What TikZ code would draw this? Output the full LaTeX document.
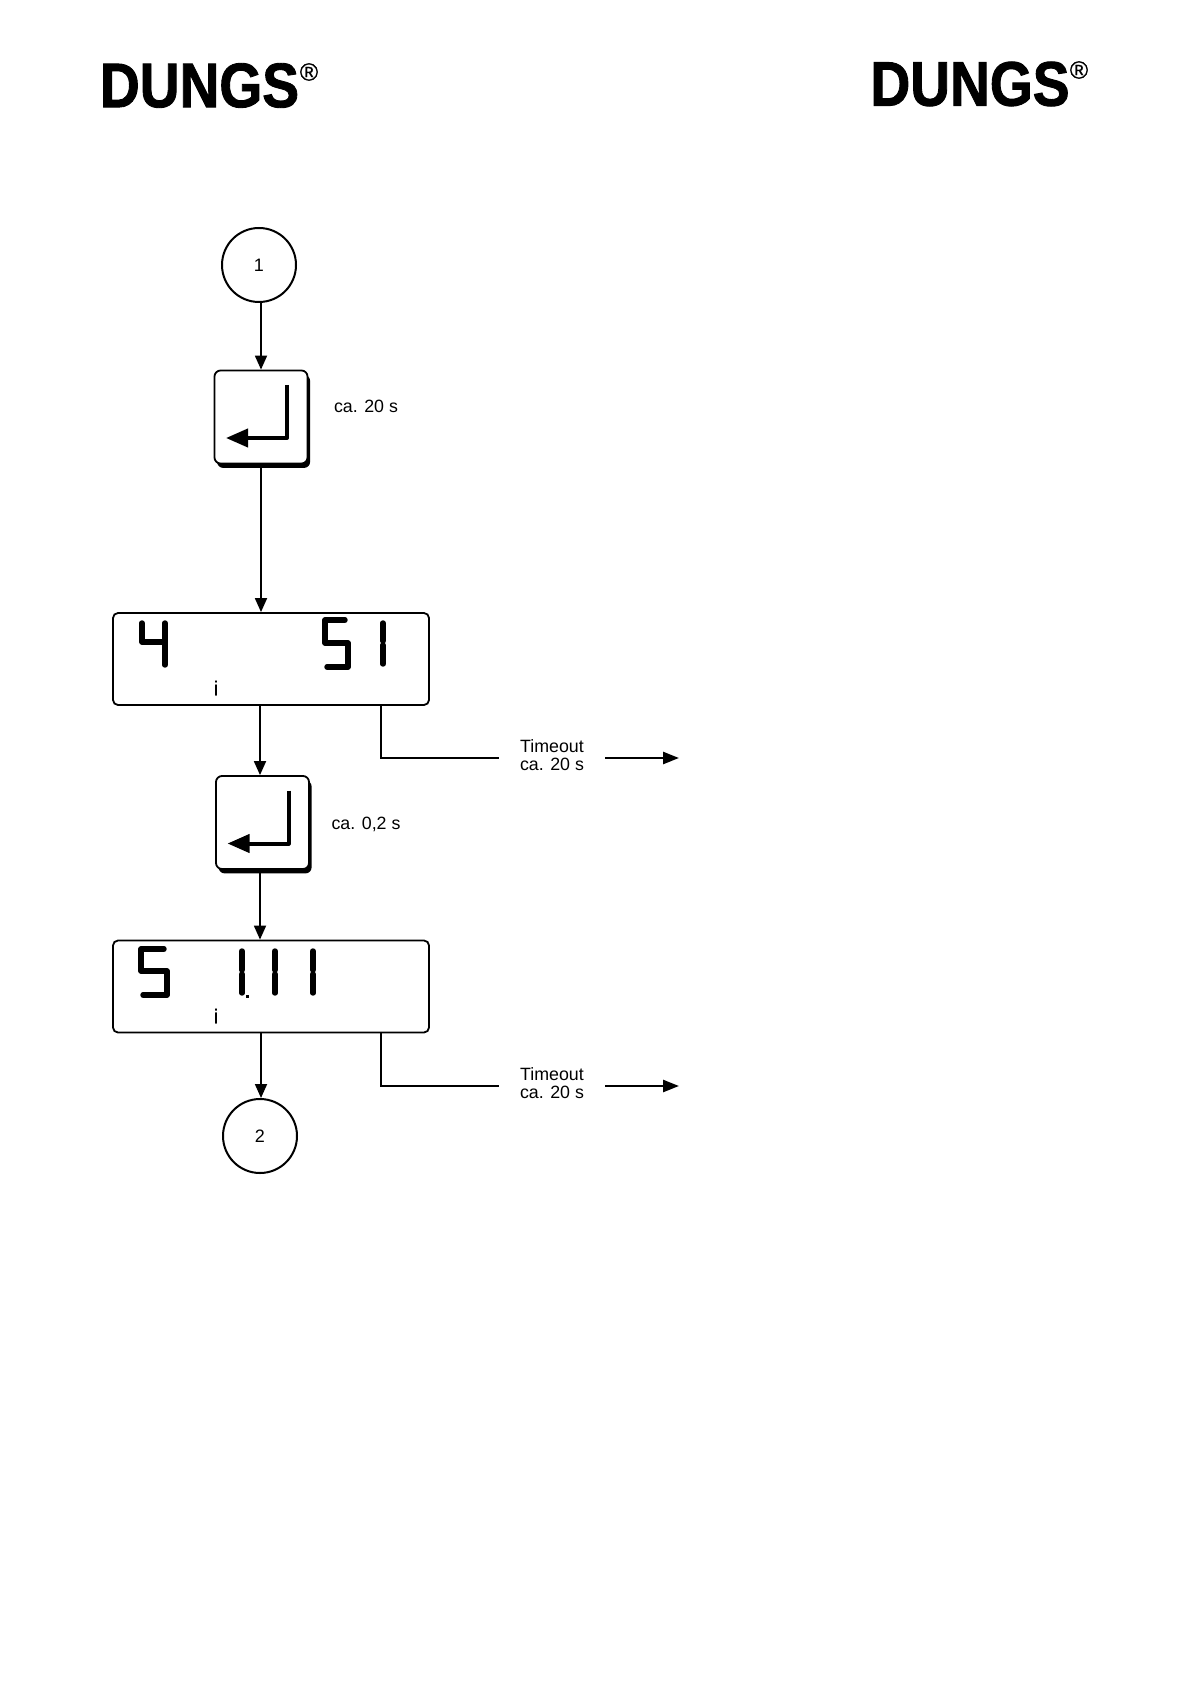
\documentclass[tikz,border=0pt]{standalone}
\usepackage{fontspec}
\setmainfont{Liberation Sans}
\newfontfamily\logofont[FakeStretch=0.875,FakeBold=1.4]{Liberation Sans Bold}
\newfontfamily\regfont[FakeBold=0.6]{Liberation Sans}
\usetikzlibrary{arrows.meta,shadows}

% return arrow on a key, relative to the key centre
\newcommand{\keyarrow}[1]{%
  \draw[retline] ([shift={(26,-32)}]#1.center) -- ([shift={(26,21)}]#1.center)
  -- ([shift={(-35,21)}]#1.center);
}

\tikzset{
  flow/.style={line width=0.9pt,-{Triangle[length=7pt,width=6pt]}},
  timeline/.style={line width=1.25pt},
  timearrow/.style={line width=1.25pt,-{Triangle[length=8pt,width=6pt]}},
  retline/.style={line width=2pt,-{Triangle[length=11pt,width=9pt]},line join=round},
  conn/.style={circle,draw,line width=1pt,minimum size=37pt,inner sep=0pt,font=\fontsize{9}{9}\selectfont},
  keybox/.style={draw,fill=white,line width=0.9pt,rounded corners=3pt,minimum size=46.5pt,inner sep=0pt,
    drop shadow={shadow xshift=1.3pt,shadow yshift=-2.2pt,fill=black,opacity=1}},
  lcdbox/.style={draw,line width=0.9pt,rounded corners=2.5pt,minimum width=158pt,minimum height=46pt,inner sep=0pt},
  lcdseg/.style={line width=2.7pt,line cap=round,line join=round},
  txt/.style={inner sep=0pt,font=\fontsize{8.9}{9}\selectfont},
  ilabel/.style={inner sep=0pt,font=\regfont\fontsize{10}{10}\selectfont},
  timeout/.style={inner sep=0pt,minimum width=53pt,align=center,font=\fontsize{8.9}{9}\selectfont},
  logo/.style={inner sep=0pt,font=\logofont\fontsize{31.5}{32}\selectfont},
  regmark/.style={inner sep=0pt,font=\regfont\fontsize{12.5}{13}\selectfont},
}

\begin{document}
\begin{tikzpicture}[x=0.5pt,y=-0.5pt]
  \useasboundingbox (0,0) rectangle (1191,1684);

  % logos
  \node[logo] (logol) at (199.5,85.5) {DUNGS};
  \node[regmark] (regl) at (309,72) {®};
  \node[logo] (logor) at (970,84) {DUNGS};
  \node[regmark] (regr) at (1079,70) {®};

  % flow
  \node[conn] (ca) at (259,265) {1};
  \node[keybox] (keya) at (261,417) {};
  \node[txt] (ta) at (366,406) {ca. 20 s};
  \node[lcdbox] (lcda) at (271,659) {};
  \node[ilabel] (ia) at (216,688) {i};
  \node[timeout] (toa) at (552,755.5) {Timeout\\ca. 20 s};
  \coordinate (exa) at (679,758);
  \node[keybox] (keyb) at (262.5,822.5) {};
  \node[txt] (tb) at (366,824) {ca. 0,2 s};
  \node[lcdbox] (lcdb) at (271,986.5) {};
  \node[ilabel] (ib) at (216,1016) {i};
  \node[timeout] (tob) at (552,1083.5) {Timeout\\ca. 20 s};
  \coordinate (exb) at (679,1086);
  \node[conn] (cb) at (260,1136) {2};

  \keyarrow{keya}
  \keyarrow{keyb}

  \draw[flow] (261,303) -- (keya.north -| 261,0);
  \draw[flow] (keya.south -| 261,0) -- (lcda.north -| 261,0);
  \draw[flow] (lcda.south -| 260,0) -- (keyb.north -| 260,0);
  \draw[flow] (keyb.south -| 260,0) -- (lcdb.north -| 260,0);
  \draw[flow] (lcdb.south -| 261,0) -- (cb.north -| 261,0);

  \draw[timeline] (lcda.south -| 381,0) |- (exa -| toa.west);
  \draw[timearrow] (exa -| toa.east) -- (exa);
  \draw[timeline] (lcdb.south -| 381,0) |- (exb -| tob.west);
  \draw[timearrow] (exb -| tob.east) -- (exb);

  % display 1
  \draw[lcdseg] (142,623) -- (142,642) -- (165,642);
  \draw[lcdseg] (165,623) -- (165,665);
  \draw[lcdseg] (345,620) -- (325,620) -- (325,643) -- (348,643) -- (348,667) -- (327,667);
  \draw[lcdseg] (383,623) -- (383,641) (383,645) -- (383,664);

  % display 2
  \draw[lcdseg] (164,949) -- (141,949) -- (141,971) -- (167,971) -- (167,995) -- (143,995);
  \foreach \xd in {242,275,313}
    \draw[lcdseg] (\xd,951) -- (\xd,970) (\xd,974) -- (\xd,993);
  \fill (245.5,994.5) rectangle (248.5,997.5);
\end{tikzpicture}
\end{document}
